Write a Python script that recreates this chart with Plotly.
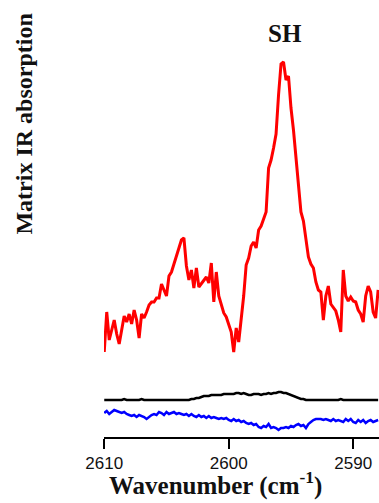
import plotly.graph_objects as go

wavenumber = [
    2610.0, 2609.8, 2609.6, 2609.4, 2609.2, 2609.0, 2608.8, 2608.6, 2608.4, 2608.2,
    2608.0, 2607.8, 2607.6, 2607.4, 2607.2, 2607.0, 2606.8, 2606.6, 2606.4, 2606.2,
    2606.0, 2605.8, 2605.6, 2605.4, 2605.2, 2605.0, 2604.8, 2604.6, 2604.4, 2604.2,
    2604.0, 2603.8, 2603.6, 2603.4, 2603.2, 2603.0, 2602.8, 2602.6, 2602.4, 2602.2,
    2602.0, 2601.8, 2601.6, 2601.4, 2601.2, 2601.0, 2600.8, 2600.6, 2600.4, 2600.2,
    2600.0, 2599.8, 2599.6, 2599.4, 2599.2, 2599.0, 2598.8, 2598.6, 2598.4, 2598.2,
    2598.0, 2597.8, 2597.6, 2597.4, 2597.2, 2597.0, 2596.8, 2596.6, 2596.4, 2596.2,
    2596.0, 2595.8, 2595.6, 2595.4, 2595.2, 2595.0, 2594.8, 2594.6, 2594.4, 2594.2,
    2594.0, 2593.8, 2593.6, 2593.4, 2593.2, 2593.0, 2592.8, 2592.6, 2592.4, 2592.2,
    2592.0, 2591.8, 2591.6, 2591.4, 2591.2, 2591.0, 2590.8, 2590.6, 2590.4, 2590.2,
    2590.0, 2589.8, 2589.6, 2589.4, 2589.2, 2589.0, 2588.8, 2588.6, 2588.4, 2588.2,
    2588.0,
]

matrix_red = [
    0.085, 0.125, 0.097, 0.107, 0.117, 0.103, 0.093, 0.107, 0.121, 0.115,
    0.123, 0.113, 0.127, 0.117, 0.099, 0.123, 0.119, 0.125, 0.132, 0.135,
    0.135, 0.139, 0.139, 0.153, 0.147, 0.141, 0.161, 0.165, 0.173, 0.181,
    0.187, 0.197, 0.199, 0.171, 0.157, 0.167, 0.149, 0.169, 0.150, 0.153,
    0.156, 0.160, 0.154, 0.174, 0.135, 0.165, 0.141, 0.131, 0.124, 0.120,
    0.113, 0.105, 0.085, 0.109, 0.095, 0.115, 0.141, 0.172, 0.179, 0.191,
    0.195, 0.189, 0.207, 0.211, 0.219, 0.225, 0.269, 0.277, 0.289, 0.303,
    0.342, 0.373, 0.375, 0.357, 0.361, 0.329, 0.307, 0.282, 0.250, 0.225,
    0.216, 0.199, 0.180, 0.173, 0.169, 0.155, 0.147, 0.145, 0.117, 0.141,
    0.151, 0.133, 0.130, 0.126, 0.117, 0.105, 0.167, 0.141, 0.136, 0.140,
    0.136, 0.135, 0.127, 0.123, 0.115, 0.141, 0.151, 0.145, 0.125, 0.119,
    0.147,
]

trace_black = [
    0.037, 0.037, 0.037, 0.037, 0.037, 0.037, 0.037, 0.037, 0.038, 0.037,
    0.037, 0.037, 0.037, 0.037, 0.037, 0.038, 0.037, 0.037, 0.037, 0.037,
    0.037, 0.037, 0.037, 0.037, 0.037, 0.037, 0.037, 0.037, 0.037, 0.037,
    0.037, 0.037, 0.037, 0.037, 0.037, 0.038, 0.038, 0.039, 0.039, 0.040,
    0.041, 0.041, 0.041, 0.042, 0.042, 0.042, 0.042, 0.042, 0.043, 0.043,
    0.043, 0.043, 0.043, 0.044, 0.044, 0.043, 0.044, 0.043, 0.042, 0.042,
    0.043, 0.043, 0.043, 0.042, 0.043, 0.043, 0.044, 0.043, 0.044, 0.044,
    0.045, 0.045, 0.044, 0.044, 0.043, 0.042, 0.041, 0.040, 0.039, 0.038,
    0.038, 0.037, 0.037, 0.037, 0.037, 0.037, 0.037, 0.037, 0.037, 0.037,
    0.037, 0.037, 0.037, 0.037, 0.037, 0.038, 0.037, 0.037, 0.037, 0.037,
    0.037, 0.037, 0.037, 0.037, 0.037, 0.037, 0.037, 0.037, 0.037, 0.037,
    0.037,
]

trace_blue = [
    0.024, 0.026, 0.023, 0.025, 0.027, 0.026, 0.025, 0.024, 0.025, 0.023,
    0.022, 0.021, 0.022, 0.020, 0.022, 0.021, 0.020, 0.018, 0.020, 0.022,
    0.023, 0.022, 0.025, 0.024, 0.022, 0.025, 0.023, 0.024, 0.025, 0.023,
    0.024, 0.023, 0.022, 0.023, 0.021, 0.023, 0.021, 0.020, 0.022, 0.020,
    0.021, 0.019, 0.021, 0.019, 0.020, 0.019, 0.018, 0.019, 0.018, 0.019,
    0.017, 0.016, 0.018, 0.016, 0.017, 0.015, 0.016, 0.014, 0.013, 0.014,
    0.012, 0.013, 0.010, 0.009, 0.011, 0.010, 0.013, 0.009, 0.010, 0.009,
    0.007, 0.009, 0.009, 0.010, 0.009, 0.011, 0.010, 0.012, 0.013, 0.011,
    0.012, 0.009, 0.013, 0.015, 0.017, 0.018, 0.018, 0.018, 0.017, 0.018,
    0.017, 0.016, 0.018, 0.016, 0.017, 0.016, 0.015, 0.018, 0.016, 0.018,
    0.015, 0.014, 0.017, 0.015, 0.017, 0.014, 0.016, 0.017, 0.015, 0.016,
    0.017,
]

tick_vals = [2610, 2600, 2590]
tick_text = ["2610", "2600", "2590"]

fig = go.Figure()
fig.add_trace(go.Scatter(x=wavenumber, y=trace_black, mode="lines",
                         line=dict(color="#000000", width=2.5), showlegend=False))
fig.add_trace(go.Scatter(x=wavenumber, y=trace_blue, mode="lines",
                         line=dict(color="#0000ff", width=2.5), showlegend=False))
fig.add_trace(go.Scatter(x=wavenumber, y=matrix_red, mode="lines",
                         line=dict(color="#ff0000", width=3), showlegend=False))

serif = "Liberation Serif, DejaVu Serif, serif"

fig.update_layout(
    width=379, height=503,
    margin=dict(l=104, r=0, t=10, b=66),
    paper_bgcolor="white", plot_bgcolor="white",
    xaxis=dict(range=[2610.02, 2587.93], showgrid=False, zeroline=False,
               showline=True, linecolor="black", linewidth=1.5,
               ticks="outside", ticklen=10, tickwidth=1.5, tickcolor="black",
               tickvals=tick_vals, ticktext=tick_text,
               tickfont=dict(family="Liberation Sans, Arial, sans-serif", size=17, color="#111111")),
    yaxis=dict(range=[0, 0.427], visible=False),
    annotations=[
        dict(text="<b>SH</b>", x=0.658, y=0.946, xref="paper", yref="paper",
             xanchor="center", yanchor="middle",
             showarrow=False, font=dict(family=serif, size=25, color="#111111")),
        dict(text="<b>Matrix IR absorption</b>", x=-0.291, y=0.734, xref="paper", yref="paper",
             xanchor="center", yanchor="middle",
             textangle=-90, showarrow=False, font=dict(family=serif, size=24, color="#111111")),
        dict(text="<b>Wavenumber (cm<sup>-1</sup>)</b>", x=0.407, y=-0.153, xref="paper", yref="paper",
             xanchor="center", yanchor="bottom",
             showarrow=False, font=dict(family=serif, size=25, color="#111111")),
    ],
)

fig.write_html("out.html")
